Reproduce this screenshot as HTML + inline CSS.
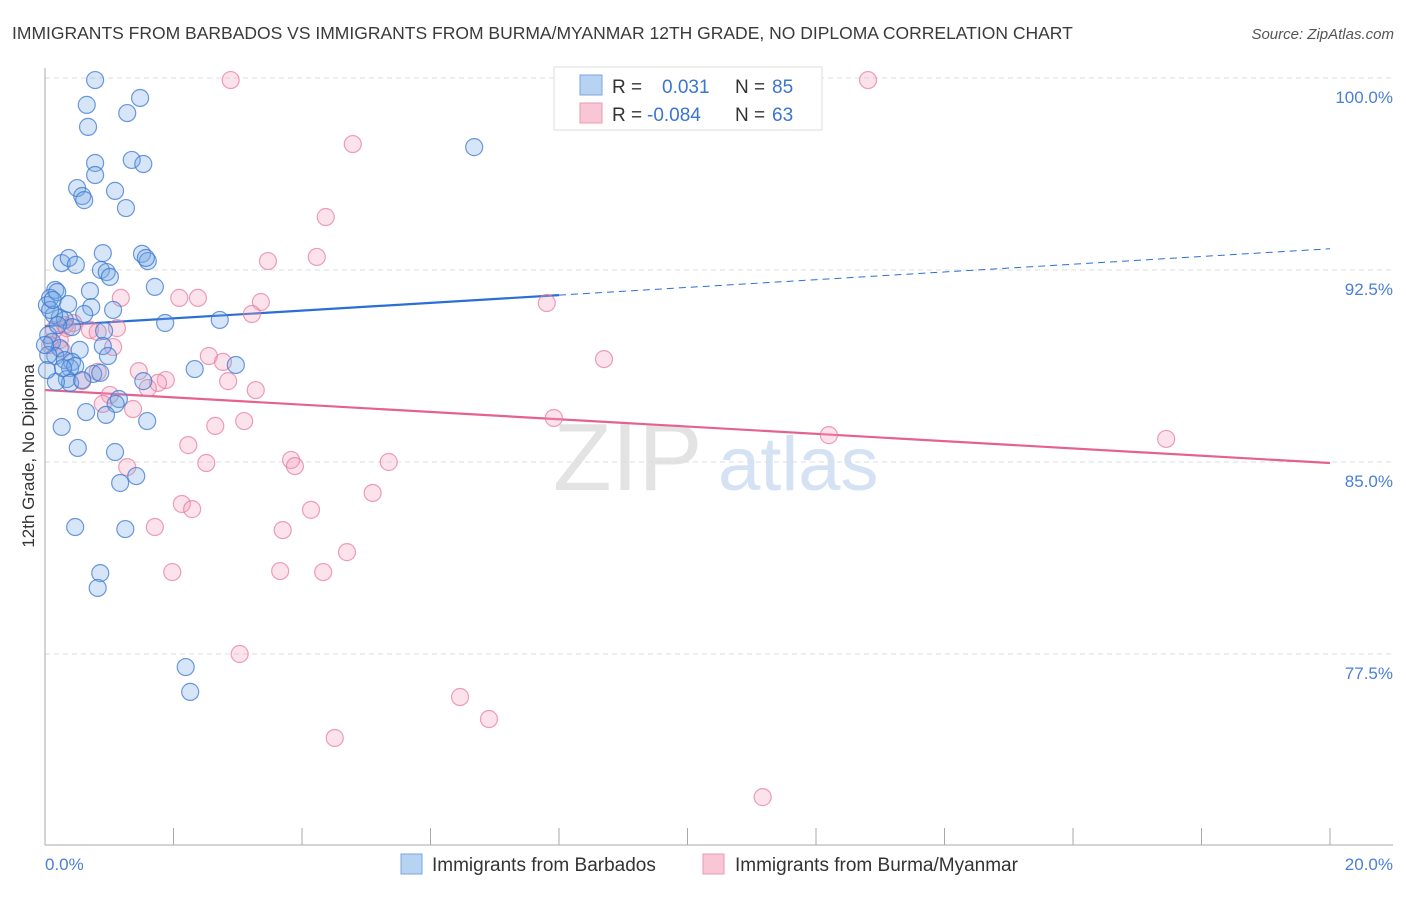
<!DOCTYPE html>
<html><head><meta charset="utf-8"><style>
body{margin:0;background:#fff;font-family:"Liberation Sans",sans-serif;}
svg text{font-family:"Liberation Sans",sans-serif;}
</style></head><body>
<svg id="chart" width="1406" height="892" xmlns="http://www.w3.org/2000/svg">
<text x="12" y="39" font-size="17.5" fill="#3a3a3a">IMMIGRANTS FROM BARBADOS VS IMMIGRANTS FROM BURMA/MYANMAR 12TH GRADE, NO DIPLOMA CORRELATION CHART</text>
<text x="1394" y="39" font-size="15" fill="#555" text-anchor="end" font-style="italic">Source: ZipAtlas.com</text>
<text transform="translate(34,456) rotate(-90)" font-size="17" fill="#333" text-anchor="middle">12th Grade, No Diploma</text>
<g>
<text x="553" y="490" font-size="96" fill="#d8d8d8" font-family="Liberation Serif" opacity="0.7">ZIP</text>
<text x="718" y="490" font-size="76" fill="#b8d0ec" opacity="0.6">atlas</text>
</g>
<g id="grid"></g><g id="axes"></g><g id="lines"></g><g id="pts"></g>
<g>
<rect x="554" y="67" width="268" height="63" fill="#fff" stroke="#ddd"/>
<rect x="580" y="75" width="22" height="20" fill="#b8d2f2" stroke="#7aa6e0"/>
<rect x="580" y="103" width="22" height="20" fill="#f9c6d6" stroke="#eb9ab5"/>
<text x="612" y="93" font-size="19" fill="#333">R = </text><text x="662" y="93" font-size="19" fill="#3b74d1">0.031</text>
<text x="735" y="93" font-size="19" fill="#333">N = </text><text x="772" y="93" font-size="19" fill="#3b74d1">85</text>
<text x="612" y="121" font-size="19" fill="#333">R = </text><text x="647" y="121" font-size="19" fill="#3b74d1">-0.084</text>
<text x="735" y="121" font-size="19" fill="#333">N = </text><text x="772" y="121" font-size="19" fill="#3b74d1">63</text>
</g>
<g>
<rect x="401" y="854" width="21" height="20" fill="#b8d2f2" stroke="#7aa6e0"/>
<text x="432" y="871" font-size="19" fill="#333">Immigrants from Barbados</text>
<rect x="703" y="854" width="21" height="20" fill="#f9c6d6" stroke="#eb9ab5"/>
<text x="735" y="871" font-size="19" fill="#333">Immigrants from Burma/Myanmar</text>
</g>
</svg>
<script>
const yTicks=[100,92.5,85,77.5];
const yTickLabels=["100.0%","92.5%","85.0%","77.5%"];
const xTickLabels=["0.0%","20.0%"];
const blueX=[0.78,0.65,0.67,1.28,1.48,1.35,1.53,6.68,0.78,0.78,0.50,0.58,0.61,1.09,1.26,0.90,1.51,1.60,1.57,0.26,0.37,0.48,0.87,0.96,1.01,1.71,0.70,0.16,0.08,0.19,0.03,0.36,0.72,0.61,1.06,1.87,2.72,0.23,0.31,0.14,0.92,0.42,0.05,0.11,0.23,0.54,0.90,0.98,2.97,2.33,0.16,0.31,0.42,0.39,0.47,0.75,0.34,0.39,0.17,1.15,1.10,0.95,1.53,0.64,1.59,0.26,0.51,1.09,1.42,1.17,0.47,1.25,0.86,0.82,2.19,2.26,0.05,0.00,0.08,0.12,0.20,0.86,0.28,0.03,0.58];
const blueY=[99.92,98.95,98.09,98.63,99.22,96.80,96.64,97.30,96.68,96.21,95.70,95.39,95.23,95.59,94.92,93.16,93.13,92.85,92.97,92.77,92.97,92.70,92.50,92.42,92.23,91.84,91.68,91.72,91.41,91.64,91.13,91.17,91.05,90.78,90.94,90.43,90.55,90.63,90.55,90.74,90.12,90.27,89.96,89.69,89.45,89.38,89.53,89.14,88.79,88.63,89.14,88.98,88.91,88.67,88.75,88.44,88.24,88.09,88.13,87.46,87.27,86.84,88.16,86.95,86.60,86.37,85.55,85.39,84.45,84.18,82.46,82.38,80.66,80.08,76.99,76.02,89.18,89.57,90.94,91.33,90.35,88.48,88.67,88.59,88.20];
const pinkX=[2.89,12.81,4.79,4.37,3.47,4.23,1.18,2.09,2.38,3.36,3.22,7.81,0.31,0.44,0.70,0.82,1.12,0.23,1.06,0.14,0.34,8.70,2.55,2.77,1.46,1.88,1.76,1.60,0.82,2.85,3.28,1.01,0.90,1.37,7.92,12.20,17.45,3.10,2.65,2.23,2.51,3.83,3.89,5.35,1.28,5.10,2.13,2.29,1.71,4.14,3.70,4.70,1.98,3.66,4.33,3.03,6.46,6.91,4.51,11.17,0.58,0.08,0.26];
const pinkY=[99.92,99.92,97.42,94.57,92.85,93.01,91.41,91.41,91.41,91.25,90.78,91.21,90.35,90.43,90.16,90.08,90.23,89.77,89.49,90.16,90.23,89.02,89.14,88.91,88.55,88.20,88.09,87.89,88.52,88.16,87.81,87.62,87.27,87.07,86.72,86.05,85.90,86.60,86.41,85.66,84.96,85.08,84.84,85.00,84.80,83.79,83.36,83.16,82.46,83.13,82.34,81.48,80.70,80.74,80.70,77.50,75.82,74.96,74.22,71.91,88.16,89.57,89.38];
const blueFit=[90.31,93.33];
const pinkFit=[87.81,84.96];
const NS="http://www.w3.org/2000/svg";
const X0=45,X1=1330,Y0=78,PXPER=25.6;
function sx(v){return X0+(v/20)*(X1-X0);}
function sy(v){return Y0+(100-v)*PXPER;}
function mk(tag,attrs,parent){const e=document.createElementNS(NS,tag);for(const k in attrs)e.setAttribute(k,attrs[k]);parent.appendChild(e);return e;}
const grid=document.getElementById('grid'),axes=document.getElementById('axes'),lines=document.getElementById('lines'),pts=document.getElementById('pts');
yTicks.forEach((t,i)=>{
 const l=mk('line',{x1:X0,x2:1393,y1:sy(t),y2:sy(t),stroke:'#ddd','stroke-dasharray':'5,4'},grid);
 
 
 const tx=mk('text',{x:1393,y:sy(t)+25,'font-size':17,fill:'#4a7fd6','text-anchor':'end'},axes);
 tx.textContent=yTickLabels[i];
 
 
});
const ya=mk('line',{x1:X0,x2:X0,y1:68,y2:845,stroke:'#aaa'},axes);


const xa=mk('line',{x1:X0,x2:1393,y1:845,y2:845,stroke:'#aaa'},axes);


for(let i=1;i<=10;i++){
 const tk=mk('line',{x1:sx(i*2),x2:sx(i*2),y1:828,y2:845,stroke:'#aaa'},axes);
 
 
}
const xl0=mk('text',{x:45,y:870,'font-size':17,fill:'#4a7fd6'},axes);xl0.textContent=xTickLabels[0];


const xl1=mk('text',{x:1393,y:870,'font-size':17,fill:'#4a7fd6','text-anchor':'end'},axes);xl1.textContent=xTickLabels[1];


function drawPts(xs,ys,fill,stroke,name){
 xs.forEach((x,i)=>{
  const c=mk('circle',{cx:sx(x),cy:sy(ys[i]),r:8.5,fill:fill,stroke:stroke,'stroke-width':1.2},pts);
  
  
 });
}
drawPts(pinkX,pinkY,'rgba(244,160,188,0.3)','rgba(230,120,155,0.7)','burma-point');
drawPts(blueX,blueY,'rgba(120,170,230,0.3)','rgba(60,120,210,0.75)','barbados-point');
const bxSplit=8;
const bAt=v=>blueFit[0]+(blueFit[1]-blueFit[0])*v/20;
const bl=mk('line',{x1:sx(0),y1:sy(bAt(0)),x2:sx(bxSplit),y2:sy(bAt(bxSplit)),stroke:'#2a6fd6','stroke-width':2.2},lines);


const bd=mk('line',{x1:sx(bxSplit),y1:sy(bAt(bxSplit)),x2:sx(20),y2:sy(bAt(20)),stroke:'#2a6fd6','stroke-width':1,'stroke-dasharray':'7,5'},lines);


const pl=mk('line',{x1:sx(0),y1:sy(pinkFit[0]),x2:sx(20),y2:sy(pinkFit[1]),stroke:'#e4628f','stroke-width':2.2},lines);


</script>
</body></html>
